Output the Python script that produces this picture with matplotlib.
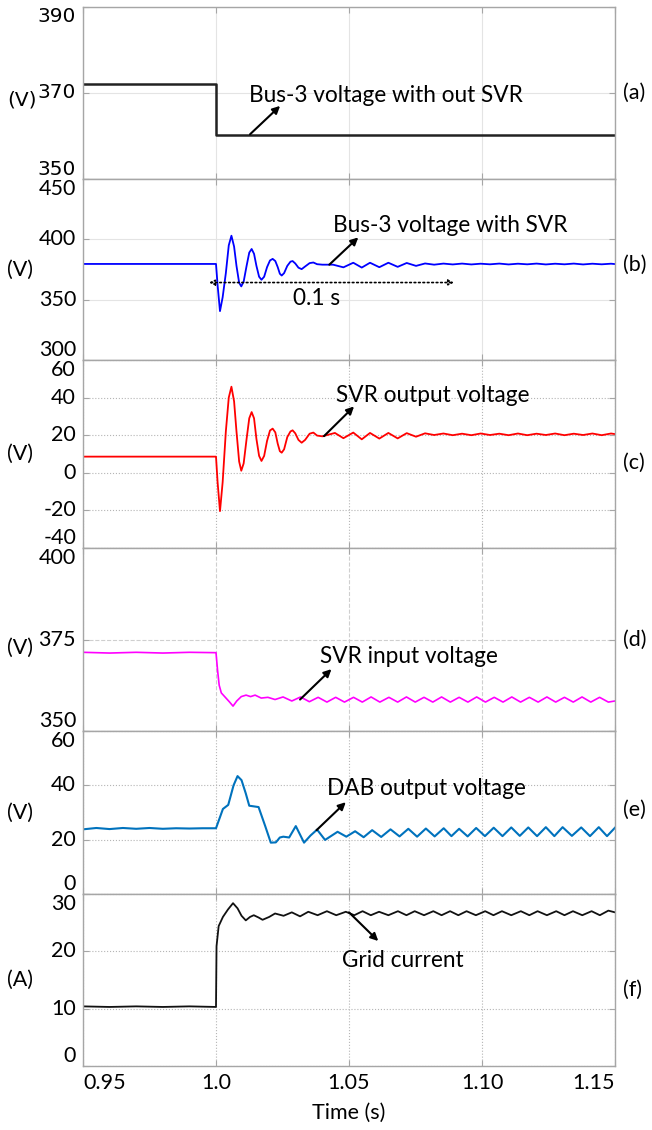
import matplotlib.pyplot as plt
from matplotlib.transforms import blended_transform_factory

# ---- data (time in s) ----
A_T = [0.95, 1.0, 1.0, 1.15]
A_V = [372.0, 372.0, 360.3, 360.3]

B_T = [0.95, 0.975, 1.0, 1.0006, 1.0015,
       1.0025, 1.0037, 1.0048, 1.0058, 1.0068,
       1.0077, 1.0087, 1.0095, 1.0104, 1.0115,
       1.0125, 1.0134, 1.0143, 1.0152, 1.0162,
       1.0171, 1.0181, 1.0192, 1.0203, 1.0213,
       1.0223, 1.0232, 1.0240, 1.0247, 1.0256,
       1.0268, 1.0280, 1.0288, 1.0298, 1.0310,
       1.0322, 1.0335, 1.0352, 1.0366, 1.0380,
       1.0400, 1.0440, 1.0479, 1.0516, 1.0548,
       1.0579, 1.0614, 1.0648, 1.0683, 1.0717,
       1.0752, 1.0786, 1.0820, 1.0855, 1.0890,
       1.0925, 1.0960, 1.0995, 1.1030, 1.1065,
       1.1100, 1.1135, 1.1170, 1.1205, 1.1240,
       1.1275, 1.1310, 1.1345, 1.1380, 1.1415,
       1.1450, 1.1485, 1.15]
B_V = [379.6, 379.6, 379.6, 362.0, 340.5,
       352.0, 372.0, 395.0, 403.0, 394.0,
       378.0, 364.0, 361.0, 365.0, 378.0,
       389.0, 392.0, 388.0, 378.0, 369.0,
       366.5, 369.0, 377.0, 382.5, 383.8,
       382.0, 377.0, 371.5, 370.0, 372.0,
       378.0, 381.5, 382.0, 380.0, 376.5,
       375.3, 377.5, 380.3, 380.8, 379.4,
       379.0, 379.0, 376.8, 380.6, 376.6,
       380.6, 376.9, 380.6, 377.2, 380.4,
       378.0, 380.0, 379.0, 379.9, 379.2,
       379.9, 379.2, 379.8, 379.3, 379.9,
       379.2, 379.8, 379.3, 379.9, 379.2,
       379.8, 379.3, 379.9, 379.2, 379.8,
       379.3, 379.8, 379.5]

C_T = [0.95, 0.975, 1.0, 1.0006, 1.0015,
       1.0025, 1.0037, 1.0048, 1.0058, 1.0068,
       1.0077, 1.0087, 1.0095, 1.0104, 1.0115,
       1.0125, 1.0134, 1.0143, 1.0152, 1.0162,
       1.0171, 1.0181, 1.0192, 1.0203, 1.0213,
       1.0223, 1.0232, 1.0240, 1.0247, 1.0256,
       1.0268, 1.0280, 1.0288, 1.0298, 1.0310,
       1.0322, 1.0335, 1.0352, 1.0366, 1.0380,
       1.0400, 1.0447, 1.0479, 1.0516, 1.0548,
       1.0579, 1.0614, 1.0648, 1.0683, 1.0717,
       1.0752, 1.0786, 1.0820, 1.0855, 1.0890,
       1.0925, 1.0960, 1.0995, 1.1030, 1.1065,
       1.1100, 1.1135, 1.1170, 1.1205, 1.1240,
       1.1275, 1.1310, 1.1345, 1.1380, 1.1415,
       1.1450, 1.1485, 1.15]
C_V = [8.6, 8.6, 8.6, -5.0, -20.4,
       -5.0, 22.0, 40.0, 45.8, 38.0,
       22.0, 6.0, 1.1, 5.0, 18.0,
       29.0, 32.3, 29.0, 18.0, 9.0,
       6.3, 9.0, 17.0, 22.5, 23.5,
       21.5, 15.5, 11.5, 10.7, 12.5,
       19.0, 22.0, 22.6, 21.0, 17.5,
       16.0, 17.5, 20.8, 21.4, 19.8,
       19.4, 21.2, 18.4, 21.4, 17.8,
       21.2, 18.2, 21.2, 18.3, 21.1,
       19.2, 21.0, 20.1, 20.9, 20.0,
       20.8, 20.0, 20.9, 20.1, 20.8,
       20.0, 20.9, 20.0, 20.8, 20.1,
       20.9, 20.0, 20.8, 20.1, 20.9,
       20.0, 20.9, 20.6]

D_T = [0.95, 0.96, 0.97, 0.98, 0.99,
       1.0, 1.0006, 1.0012, 1.0020, 1.0035,
       1.0050, 1.0064, 1.0078, 1.0095, 1.0113,
       1.0130, 1.0147, 1.0170, 1.0195, 1.0222,
       1.0252, 1.0285, 1.0318, 1.0351, 1.0384,
       1.0417, 1.0450, 1.0483, 1.0517, 1.0550,
       1.0583, 1.0616, 1.0650, 1.0683, 1.0716,
       1.0749, 1.0782, 1.0815, 1.0848, 1.0881,
       1.0914, 1.0947, 1.0980, 1.1013, 1.1046,
       1.1079, 1.1112, 1.1145, 1.1178, 1.1211,
       1.1244, 1.1277, 1.1310, 1.1343, 1.1376,
       1.1409, 1.1442, 1.1475, 1.15]
D_V = [371.5, 371.3, 371.5, 371.3, 371.5,
       371.4, 366.5, 362.5, 360.4, 359.2,
       358.0, 356.8, 358.2, 359.4, 359.8,
       359.4, 359.8, 359.0, 359.2, 358.6,
       359.3, 358.2, 359.3, 358.0, 359.2,
       357.9, 359.2, 357.9, 359.2, 357.9,
       359.3, 357.9, 359.2, 357.9, 359.3,
       357.9, 359.2, 357.9, 359.3, 357.9,
       359.2, 357.9, 359.3, 357.9, 359.2,
       357.9, 359.3, 357.9, 359.2, 357.9,
       359.3, 357.9, 359.2, 357.9, 359.3,
       357.9, 359.2, 357.9, 358.2]

E_T = [0.95, 0.955, 0.96, 0.965, 0.97,
       0.975, 0.98, 0.985, 0.99, 0.995,
       1.0, 1.0026, 1.0046, 1.0066, 1.0081,
       1.0096, 1.0112, 1.0125, 1.0160, 1.0185,
       1.0206, 1.0225, 1.0240, 1.0253, 1.0275,
       1.0300, 1.0331, 1.0355, 1.0380, 1.0410,
       1.0457, 1.0490, 1.0523, 1.0555, 1.0587,
       1.0621, 1.0656, 1.0690, 1.0723, 1.0756,
       1.0789, 1.0822, 1.0856, 1.0885, 1.0914,
       1.0946, 1.0978, 1.1011, 1.1044, 1.1077,
       1.1110, 1.1142, 1.1174, 1.1207, 1.1240,
       1.1272, 1.1303, 1.1338, 1.1373, 1.1406,
       1.1439, 1.1470, 1.15]
E_V = [23.8, 24.3, 23.9, 24.3, 24.0,
       24.3, 24.0, 24.2, 24.1, 24.2,
       24.2, 31.3, 32.8, 40.0, 43.4,
       41.9, 37.0, 32.5, 32.0, 25.0,
       18.9, 19.0, 20.8, 21.1, 20.8,
       25.0, 18.9, 21.5, 23.7, 19.9,
       22.9, 21.1, 23.1, 20.9, 23.5,
       21.0, 23.8, 21.2, 24.0, 21.1,
       24.1, 21.2, 24.2, 21.3, 24.0,
       21.2, 24.3, 21.3, 24.4, 21.3,
       24.5, 21.4, 24.5, 21.3, 24.6,
       21.3, 24.6, 21.4, 24.5, 21.3,
       24.6, 21.3, 24.4]

F_T = [0.95, 0.96, 0.97, 0.98, 0.99,
       1.0, 1.0002, 1.001, 1.0026, 1.0045,
       1.0064, 1.0081, 1.0096, 1.0112, 1.0128,
       1.0142, 1.0160, 1.0175, 1.0200, 1.0222,
       1.0254, 1.0285, 1.0316, 1.0347, 1.0382,
       1.0417, 1.0452, 1.0488, 1.0520, 1.0551,
       1.0582, 1.0613, 1.0648, 1.0684, 1.0716,
       1.0747, 1.0782, 1.0817, 1.0848, 1.0880,
       1.0911, 1.0942, 1.0977, 1.1012, 1.1043,
       1.1075, 1.1110, 1.1146, 1.1178, 1.1209,
       1.1244, 1.1279, 1.1310, 1.1342, 1.1377,
       1.1412, 1.1443, 1.1475, 1.15]
F_V = [10.4, 10.3, 10.4, 10.3, 10.4,
       10.3, 20.9, 24.4, 26.0, 27.3,
       28.4, 27.5, 26.2, 25.4, 26.0,
       26.3, 25.9, 25.5, 26.0, 26.6,
       26.2, 26.8, 26.1, 26.9, 26.3,
       27.0, 26.3, 26.9, 26.3, 27.0,
       26.3, 26.9, 26.3, 27.0, 26.3,
       27.0, 26.3, 27.0, 26.3, 27.0,
       26.3, 27.0, 26.3, 27.0, 26.3,
       27.0, 26.3, 27.0, 26.3, 27.0,
       26.3, 27.0, 26.3, 27.0, 26.3,
       27.0, 26.3, 27.1, 26.8]

X_TICKS = [0.95, 1.0, 1.05, 1.10, 1.15]
X_LABELS = ["0.95", "1.0", "1.05", "1.10", "1.15"]

W, H = 652, 1130
LEFT, RIGHT = 83, 615
FONT = "Lato"
FS = 16.3      # annotation text
TFS = 15.5     # tick labels / units

fig = plt.figure(figsize=(W / 100, H / 100), dpi=100)

# top px, bottom px, t, v, colour, lw, ylim, yticks, grid style, grid colour, unit, tag, tag y
panels = [
    (7, 179, A_T, A_V, "#222222", 1.8, (350, 390), [350, 370, 390], "-", "#e4e4e4", "(V)", "(a)", 93),
    (179, 360, B_T, B_V, "#0000ff", 1.3, (300, 450), [300, 350, 400, 450], "-", "#e4e4e4", "(V)", "(b)", 265),
    (360, 548, C_T, C_V, "#ff0000", 1.3, (-40, 60), [-40, -20, 0, 20, 40, 60], ":", "#b5b5b5", "(V)", "(c)", 463),
    (548, 731, D_T, D_V, "#ff00ff", 1.2, (350, 400), [350, 375, 400], "--", "#cfcfcf", "(V)", "(d)", 640),
    (731, 894, E_T, E_V, "#0072bd", 1.5, (0, 60), [0, 20, 40, 60], ":", "#b5b5b5", "(V)", "(e)", 810),
    (894, 1066, F_T, F_V, "#111111", 1.3, (0, 30), [0, 10, 20, 30], ":", "#b5b5b5", "(A)", "(f)", 990),
]

axes = []
for i, (top, bot, t, v, col, lw, ylim, yt, gls, gcol, unit, tag, tag_y) in enumerate(panels):
    ax = fig.add_axes([LEFT / W, 1 - bot / H, (RIGHT - LEFT) / W, (bot - top) / H])
    ax.plot(t, v, color=col, lw=lw, solid_joinstyle="round")
    ax.set_xlim(0.95, 1.15)
    ax.set_ylim(*ylim)
    ax.set_xticks(X_TICKS)
    ax.set_yticks(yt)
    ax.tick_params(direction="in", length=4, color="#a6a6a6", top=True, right=True,
                   labelleft=False, labelbottom=False)
    ax.grid(True, color=gcol, ls=gls, lw=0.8)
    for s in ax.spines.values():
        s.set_color("#a6a6a6")
        s.set_linewidth(1.0)

    # y tick labels, nudged inside the panel at the ends like the original
    tr = blended_transform_factory(ax.transAxes, ax.transData)
    tick_font = "DejaVu Sans" if i == 0 else FONT
    tick_fs = 14.5 if i == 0 else TFS
    for k, val in enumerate(yt):
        va = "bottom" if k == 0 else ("top" if k == len(yt) - 1 else "center")
        ax.text(-0.013, val, str(val), transform=tr, ha="right", va=va,
                fontsize=tick_fs, family=tick_font)

    mid = (top + bot) / 2 if i != 0 else 100
    if i == 3:
        mid = 648
    fig.text(7 / W, 1 - mid / H, unit, ha="left", va="center",
             fontsize=tick_fs, family=tick_font)
    fig.text(623 / W, 1 - tag_y / H, tag, ha="left", va="center", fontsize=TFS, family=FONT)
    axes.append(ax)

arrow = dict(arrowstyle="-|>", color="black", lw=1.5, mutation_scale=11, shrinkA=0, shrinkB=0)
txt = dict(fontsize=FS, family=FONT, ha="left", va="baseline")

ax_a, ax_b, ax_c, ax_d, ax_e, ax_f = axes
ax_a.text(1.0124, 367.9, "Bus-3 voltage with out SVR", **txt)
ax_a.annotate("", xy=(1.0241, 367.0), xytext=(1.0128, 360.4), arrowprops=arrow)

ax_b.text(1.044, 405.7, "Bus-3 voltage with SVR", **txt)
ax_b.annotate("", xy=(1.0535, 401.6), xytext=(1.0426, 379.0), arrowprops=arrow)
ax_b.annotate("", xy=(1.0895, 364.2), xytext=(0.9974, 364.2),
              arrowprops=dict(arrowstyle="<|-|>", color="black", lw=1.2, ls=":",
                              mutation_scale=8, fill=False, shrinkA=0, shrinkB=0))
ax_b.text(1.0378, 351.0, "0.1 s", fontsize=FS, family=FONT, ha="center", va="center")

ax_c.text(1.045, 37.5, "SVR output voltage", **txt)
ax_c.annotate("", xy=(1.0519, 35.3), xytext=(1.0406, 19.5), arrowprops=arrow)

ax_d.text(1.0391, 368.7, "SVR input voltage", **txt)
ax_d.annotate("", xy=(1.0434, 366.9), xytext=(1.0316, 358.6), arrowprops=arrow)

ax_e.text(1.0417, 36.3, "DAB output voltage", **txt)
ax_e.annotate("", xy=(1.0488, 33.8), xytext=(1.0378, 23.5), arrowprops=arrow)

ax_f.text(1.0472, 17.3, "Grid current", **txt)
ax_f.annotate("", xy=(1.061, 21.8), xytext=(1.05, 26.8), arrowprops=arrow)

# x tick labels on the bottom panel
trx = blended_transform_factory(ax_f.transData, ax_f.transAxes)
for k, (xv, lab) in enumerate(zip(X_TICKS, X_LABELS)):
    ha = "left" if k == 0 else ("right" if k == len(X_TICKS) - 1 else "center")
    ax_f.text(xv, -0.04, lab, transform=trx, ha=ha, va="top", fontsize=TFS, family=FONT)
fig.text((LEFT + RIGHT) / 2 / W, 1 - 1113 / H, "Time (s)", ha="center", va="center",
         fontsize=TFS, family=FONT)

fig.savefig("out.png", dpi=100)
